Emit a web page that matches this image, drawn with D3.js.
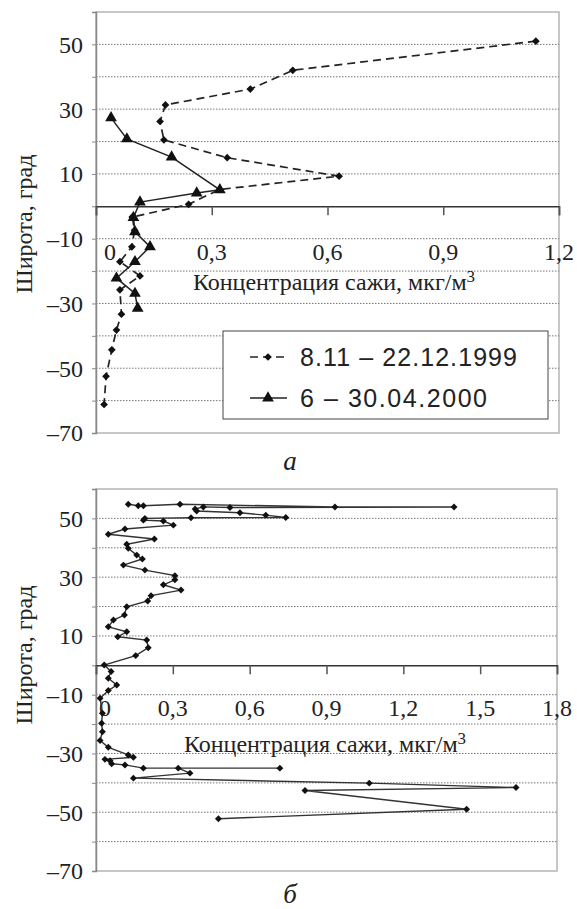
<!DOCTYPE html>
<html><head><meta charset="utf-8">
<script src="https://cdn.jsdelivr.net/npm/d3@7"></script>
<style>body{margin:0;background:#fff} text{font-family:"Liberation Serif","Times New Roman",serif} .sans{font-family:"Liberation Sans",Arial,sans-serif}</style>
</head><body>
<svg id="c" width="577" height="909"></svg>
<script>
// ---------- data ----------
const xTicksA = [0, 0.3, 0.6, 0.9, 1.2];
const xTicksB = [0, 0.3, 0.6, 0.9, 1.2, 1.5, 1.8];
const yTickLabels = [50, 30, 10, -10, -30, -50, -70];
const gridLat = [50, 40, 30, 20, 10, -10, -20, -30, -40, -50, -60];
const legendLabels = ["8.11 – 22.12.1999", "6 – 30.04.2000"];
const xTitle = "Концентрация сажи, мкг/м";
const yTitle = "Широта, град";
const captions = ["а", "б"];

// panel а, series 1 (8.11–22.12.1999)
const a1Lat  = [51, 42, 36.2, 31.3, 26.2, 20.5, 15, 9.3, 5.2, 0.6, -3.3, -7.4, -12.5, -17.1, -21.5, -25.8, -33.3, -38.2, -44.3, -52.5, -61.2];
const a1Conc = [1.14, 0.51, 0.40, 0.18, 0.166, 0.176, 0.34, 0.63, 0.32, 0.24, 0.094, 0.10, 0.093, 0.062, 0.114, 0.062, 0.066, 0.053, 0.041, 0.026, 0.021];
// panel а, series 2 (6–30.04.2000)
const a2Lat  = [27.3, 20.8, 15.2, 5.1, 4.1, 1.3, -3.5, -7.9, -12.5, -17.1, -22.2, -26.9, -31.5];
const a2Conc = [0.039, 0.08, 0.196, 0.321, 0.261, 0.114, 0.097, 0.101, 0.14, 0.101, 0.053, 0.101, 0.108];
// panel б
const bLat  = [54.8, 54.3, 54.3, 54.8, 53.9, 53.9, 53.7, 53.9, 53.2, 52.5, 51.9, 51.1, 50.3, 50.2, 50.0, 49.4, 49.1, 47.7, 46.4, 44.6, 43.0, 41.2, 39.8, 37.5, 36.2, 34.1, 32.4, 30.5, 29.1, 27.4, 25.6, 23.7, 21.9, 19.9, 17.1, 15.4, 13.1, 11.4, 9.7, 8.6, 6.0, 3.3, 0.1, -2.1, -4.4, -6.7, -8.6, -11.2, -16.3, -19.7, -22.6, -25.6, -27.9, -30.5, -31.3, -32.0, -32.5, -33.5, -33.9, -35.0, -35.0, -35.0, -36.7, -38.4, -40.1, -41.6, -42.6, -49.0, -52.2];
const bConc = [0.126, 0.165, 0.185, 0.328, 0.933, 1.398, 0.523, 0.419, 0.387, 0.393, 0.562, 0.663, 0.741, 0.371, 0.191, 0.185, 0.263, 0.302, 0.113, 0.048, 0.228, 0.12, 0.126, 0.159, 0.181, 0.107, 0.191, 0.308, 0.308, 0.263, 0.332, 0.215, 0.202, 0.12, 0.111, 0.068, 0.048, 0.12, 0.085, 0.198, 0.204, 0.155, 0.032, 0.059, 0.048, 0.081, 0.048, 0.016, 0.025, 0.022, 0.025, 0.016, 0.048, 0.126, 0.146, 0.035, 0.055, 0.061, 0.113, 0.185, 0.718, 0.321, 0.367, 0.146, 1.067, 1.64, 0.816, 1.447, 0.478];

// ---------- drawing ----------
const svg = d3.select("#c");
const loc = d3.formatLocale({decimal: ",", thousands: " ", grouping: [3], currency: ["", ""], minus: "–"});
const fx = loc.format(".1f"), fy = loc.format("d");
const FS = 24;

function panel(p) {
  const x = d3.scaleLinear().domain([0, p.xmax]).range([p.x0, p.x1]);
  const y = d3.scaleLinear().domain([60, -70]).range([p.y0, p.y1]);
  const g = svg.append("g");
  g.append("rect").attr("x", p.x0).attr("y", p.y0).attr("width", p.x1 - p.x0).attr("height", p.y1 - p.y0)
    .attr("fill", "none").attr("stroke", "#b5b5b5").attr("stroke-width", 1.5);
  g.selectAll(".grid").data(gridLat).join("line")
    .attr("x1", p.x0).attr("x2", p.x1).attr("y1", d => y(d)).attr("y2", d => y(d))
    .attr("stroke", "#777").attr("stroke-width", 1).attr("stroke-dasharray", "1.5,1.5");
  const yAxis = d3.axisLeft(y).tickValues(d3.range(-70, 61, 10)).tickSize(4).tickFormat("");
  const ya = g.append("g").attr("transform", `translate(${p.x0},0)`).call(yAxis);
  ya.select(".domain").attr("stroke", "#888").attr("stroke-width", 1.5);
  ya.selectAll(".tick line").attr("stroke", "#888");
  g.selectAll(".ylab").data(yTickLabels).join("text")
    .attr("x", p.x0 - 13).attr("y", d => y(d)).attr("dy", "0.35em").attr("text-anchor", "end")
    .attr("font-size", FS).attr("fill", "#222").text(d => fy(d));
  const xAxis = d3.axisBottom(x).tickValues(p.xticks).tickSize(9).tickFormat("");
  const xa = g.append("g").attr("transform", `translate(0,${y(0)})`).call(xAxis);
  xa.select(".domain").attr("stroke", "#333").attr("stroke-width", 1.5);
  xa.selectAll(".tick line").attr("stroke", "#555").attr("stroke-width", 1.5);
  g.selectAll(".xlab").data(p.xticks).join("text")
    .attr("x", d => x(d) + (d === 0 ? p.zeroShift : 0)).attr("y", y(0) + p.labDy)
    .attr("text-anchor", "middle").attr("font-size", FS).attr("fill", "#222")
    .text(d => d === 0 ? "0" : fx(d));
  const t = g.append("text").attr("x", p.titleX).attr("y", y(0) + p.titleDy).attr("text-anchor", "middle")
    .attr("font-size", FS).attr("fill", "#222").text(xTitle);
  t.append("tspan").attr("font-size", 17).attr("dy", -8).text("3");
  g.append("text").attr("transform", `translate(32,${p.yTitleY}) rotate(-90)`).attr("text-anchor", "middle")
    .attr("font-size", FS).attr("fill", "#222").text(yTitle);
  g.append("text").attr("x", 290).attr("y", p.capY).attr("text-anchor", "middle")
    .attr("font-style", "italic").attr("font-size", 27).attr("fill", "#222").text(p.cap);
  return {x, y, g};
}

const A = panel({x0: 96, x1: 559, y0: 12, y1: 433, xmax: 1.2, xticks: xTicksA, zeroShift: 14, labDy: 54, titleDy: 84, titleX: 334, yTitleY: 224, capY: 470, cap: captions[0]});
const B = panel({x0: 96, x1: 557, y0: 489, y1: 871, xmax: 1.8, xticks: xTicksB, zeroShift: 9, labDy: 51, titleDy: 87, titleX: 325, yTitleY: 655, capY: 903, cap: captions[1]});

const diamond = d3.symbol().type(d3.symbolSquare);
const tri = d3.symbol().type(d3.symbolTriangle).size(60);

function series(P, lat, conc, opt) {
  const pts = lat.map((l, i) => [conc[i], l]);
  P.g.append("path").datum(pts)
    .attr("d", d3.line().x(d => P.x(d[0])).y(d => P.y(d[1])))
    .attr("fill", "none").attr("stroke", opt.color).attr("stroke-width", opt.w)
    .attr("stroke-dasharray", opt.dash || null);
  P.g.selectAll(null).data(pts).join("path")
    .attr("transform", d => opt.tri ? `translate(${P.x(d[0])},${P.y(d[1])})` : `translate(${P.x(d[0])},${P.y(d[1])}) rotate(45)`)
    .attr("d", opt.tri ? tri() : diamond.size(opt.ms)())
    .attr("fill", "#111");
}
series(A, a1Lat, a1Conc, {color: "#222", w: 1.7, dash: "8,5", ms: 30});
series(A, a2Lat, a2Conc, {color: "#222", w: 1.5, tri: true});
series(B, bLat, bConc, {color: "#333", w: 1.4, ms: 24});

const lg = svg.append("g");
lg.append("rect").attr("x", 223).attr("y", 331).attr("width", 325).attr("height", 88)
  .attr("fill", "#fff").attr("stroke", "#444").attr("stroke-width", 1);
const ly = [357, 398];
const lw = [217, 187];
legendLabels.forEach((lab, i) => {
  lg.append("line").attr("x1", 250).attr("x2", 287).attr("y1", ly[i]).attr("y2", ly[i])
    .attr("stroke", "#222").attr("stroke-width", 1.5).attr("stroke-dasharray", i === 0 ? "8,5" : null);
  lg.append("path").attr("transform", i === 0 ? `translate(268,${ly[i]}) rotate(45)` : `translate(268,${ly[i]})`)
    .attr("d", i === 0 ? diamond.size(30)() : tri()).attr("fill", "#111");
  lg.append("text").attr("class", "sans").attr("x", 300).attr("y", ly[i]).attr("dy", "0.36em")
    .attr("font-size", 25).attr("textLength", lw[i]).attr("lengthAdjust", "spacing")
    .attr("fill", "#222").text(lab);
});
</script>
</body></html>
